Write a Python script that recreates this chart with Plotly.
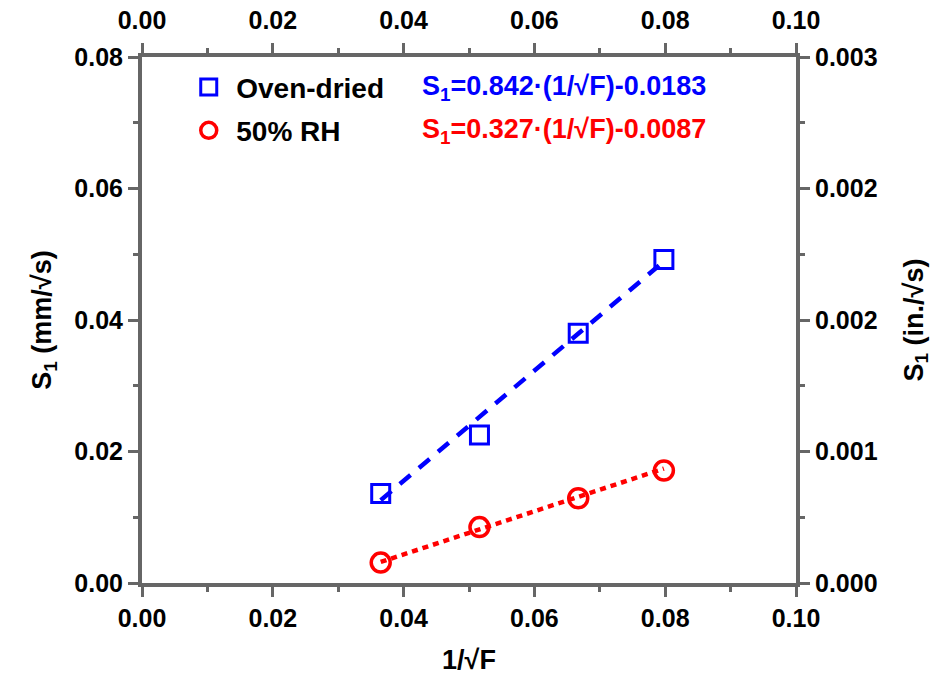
import plotly.graph_objects as go

# Data
x_vals = [0.0365, 0.0516, 0.0667, 0.0798]
oven_dried = [0.0136, 0.0225, 0.0380, 0.0492]
rh50 = [0.0031, 0.0085, 0.0129, 0.0171]

fit_x = [0.0365, 0.0798]
oven_fit = [0.0126, 0.0489]
rh_fit = [0.0032, 0.0174]

left_ticks = [0.00, 0.02, 0.04, 0.06, 0.08]
left_labels = ["0.00", "0.02", "0.04", "0.06", "0.08"]
right_labels = ["0.000", "0.001", "0.002", "0.002", "0.003"]
x_ticks = [0.00, 0.02, 0.04, 0.06, 0.08, 0.10]
x_labels = ["0.00", "0.02", "0.04", "0.06", "0.08", "0.10"]

BLUE = "#0000FF"
RED = "#FF0000"
AX = "#666666"
FONT = "Liberation Sans"

fig = go.Figure()

fig.add_trace(go.Scatter(x=fit_x, y=oven_fit, mode="lines",
                         line=dict(color=BLUE, width=4.5, dash="14px,11px"),
                         showlegend=False, hoverinfo="skip"))
fig.add_trace(go.Scatter(x=fit_x, y=rh_fit, mode="lines",
                         line=dict(color=RED, width=4.5, dash="6px,5px"),
                         showlegend=False, hoverinfo="skip"))
fig.add_trace(go.Scatter(x=x_vals, y=oven_dried, mode="markers", name="Oven-dried",
                         legendgroup="a",
                         marker=dict(symbol="square-open", size=18, color=BLUE,
                                     line=dict(width=3, color=BLUE))))
fig.add_trace(go.Scatter(x=x_vals, y=rh50, mode="markers", name="50% RH",
                         legendgroup="b",
                         marker=dict(symbol="circle-open", size=19, color=RED,
                                     line=dict(width=3.5, color=RED))))
# invisible trace to anchor secondary axes
fig.add_trace(go.Scatter(x=[x_vals[0]], y=[oven_dried[0]], xaxis="x2", yaxis="y2",
                         mode="markers", marker=dict(opacity=0), showlegend=False,
                         hoverinfo="skip"))

tickfont = dict(family=FONT, size=25, color="black", weight="bold")
common = dict(showline=True, linecolor=AX, linewidth=4, ticks="outside",
              ticklen=10, tickwidth=3, tickcolor=AX, showgrid=False, zeroline=False,
              tickfont=tickfont, automargin=False,
              minor=dict(ticks="outside", ticklen=5, tickwidth=3, tickcolor=AX, dtick=0.01))
titlefont = dict(family=FONT, size=27, color="black", weight="bold")

fig.update_layout(
    width=948, height=687,
    margin=dict(l=142, r=152, t=57, b=104),
    paper_bgcolor="white", plot_bgcolor="white",
    font=dict(family=FONT, color="black"),
    xaxis=dict(range=[0, 0.1], tickvals=x_ticks, ticktext=x_labels,
               title=dict(text="1/√F", font=titlefont, standoff=20),
               **common),
    xaxis2=dict(range=[0, 0.1], tickvals=x_ticks, ticktext=x_labels, overlaying="x",
                side="top", anchor="y", ticklabelstandoff=4, **common),
    yaxis=dict(range=[0, 0.08], tickvals=left_ticks, ticktext=left_labels,
               title=dict(text="S<sub>1</sub> (mm/√s)", font=titlefont, standoff=16),
               **common),
    yaxis2=dict(range=[0, 0.08], tickvals=left_ticks, ticktext=right_labels, overlaying="y",
                side="right", anchor="x",
                title=dict(text="S<sub>1</sub> (in./√s)", font=titlefont, standoff=28),
                **common),
    legend=dict(x=0.06, y=0.99, xanchor="left", yanchor="top",
                bgcolor="rgba(0,0,0,0)", tracegroupgap=4, traceorder="grouped",
                font=dict(family=FONT, size=28, color="black", weight="bold"),
                itemwidth=45),
    showlegend=True,
)

fig.add_annotation(xref="paper", yref="paper", x=0.425, y=0.941, xanchor="left", yanchor="middle",
                   text="S<sub>1</sub>=0.842·(1/√F)-0.0183", showarrow=False,
                   font=dict(family=FONT, size=27, color=BLUE, weight="bold"))
fig.add_annotation(xref="paper", yref="paper", x=0.425, y=0.859, xanchor="left", yanchor="middle",
                   text="S<sub>1</sub>=0.327·(1/√F)-0.0087", showarrow=False,
                   font=dict(family=FONT, size=27, color=RED, weight="bold"))

fig.write_html("out.html")
